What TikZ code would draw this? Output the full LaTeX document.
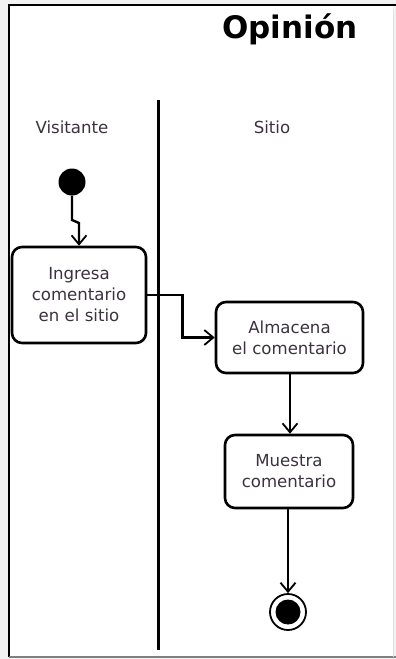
\documentclass[tikz,border=0pt]{standalone}
\usepackage{fontspec}
\setmainfont{DejaVu Sans}
\usetikzlibrary{arrows.meta, positioning}
\definecolor{inkgray}{RGB}{58,50,60}

\begin{document}
\begin{tikzpicture}[x=1pt, y=-1pt,
        act/.style={draw, line width=2.6pt, rounded corners=10pt, align=center,
                    inner sep=0pt, text=inkgray, font=\fontsize{16.6}{21}\selectfont},
        lane/.style={text=inkgray, font=\fontsize{16.6}{19}\selectfont},
        arr/.style={-{Straight Barb[length=9pt, width=15pt, line width=1.8pt]}, line width=2.4pt}
    ]
        \useasboundingbox (0,0) rectangle (396,659);
        \fill[black!5] (0,0) rectangle (396,659);
        \fill[white] (9,5) rectangle (393,657);

        % frame
        \draw[line width=2.2pt] (396,5) -- (9,5) -- (9,657);
        \draw[black!50, line width=1.2pt] (9,657) -- (396,657);
        \draw[black!12, line width=1pt] (393,10) -- (393,657);

        % title and lanes
        \node[font=\fontsize{31}{31}\selectfont\bfseries] (title) at (290,29) {Opinión};
        \draw[line width=3pt] (158,100) -- (158,650);
        \node[lane] (visitante) at (72,127) {Visitante};
        \node[lane] (sitio) at (272,127) {Sitio};

        % nodes
        \node[circle, fill=black, minimum size=27pt, inner sep=0pt] (start) at (72,182) {};
        \node[act, minimum width=134pt, minimum height=96pt] (ingresa) at (79,295)
            {Ingresa\\comentario\\en el sitio};
        \node[act, minimum width=147pt, minimum height=71pt] (almacena) at (289.5,337.5)
            {Almacena\\el comentario};
        \node[act, minimum width=128pt, minimum height=73pt] (muestra) at (289,471.5)
            {Muestra\\comentario};
        \node[circle, draw, line width=1.8pt, minimum size=36pt, inner sep=0pt] (fin) at (288,612) {};
        \node[circle, fill=black, minimum size=25pt, inner sep=0pt] (finpunto) at (fin) {};

        % flow
        \draw[arr] (start) -- ++(0,38) -- ++(7,3) -- (ingresa);
        \draw[arr] (ingresa.east) -- ++(35,0) |- (almacena);
        \draw[arr] (almacena.south -| 290,0) -- (muestra.north -| 290,0);
        \draw[arr] (muestra.south -| 288,0) -- (fin);
    \end{tikzpicture}
\end{document}
